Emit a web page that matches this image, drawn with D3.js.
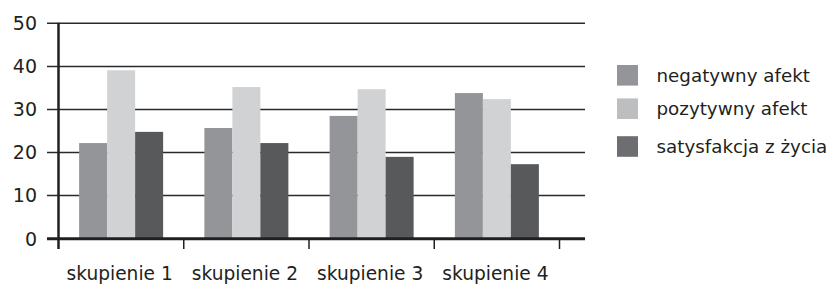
<!DOCTYPE html>
<html>
<head>
<meta charset="utf-8">
<script src="https://cdn.jsdelivr.net/npm/d3@7"></script>
<style>
  html, body { margin: 0; padding: 0; background: #fff; }
  svg { display: block; font-family: "DejaVu Sans", sans-serif; }
</style>
</head>
<body>
<svg id="chart" width="840" height="284"></svg>
<script>
const categories = ["skupienie 1", "skupienie 2", "skupienie 3", "skupienie 4"];
const seriesNames = ["negatywny afekt", "pozytywny afekt", "satysfakcja z życia"];
const negatywnyAfekt = [22.2, 25.7, 28.5, 33.8];
const pozytywnyAfekt = [39.1, 35.2, 34.7, 32.4];
const satysfakcja = [24.8, 22.2, 19.0, 17.3];
const yTicks = [0, 10, 20, 30, 40, 50];

const seriesValues = [negatywnyAfekt, pozytywnyAfekt, satysfakcja];
const barColors = ["#939598", "#d1d2d4", "#58595b"];
const legendColors = ["#939598", "#bcbec0", "#6d6e71"];

const svg = d3.select("#chart");
const plotLeft = 58.5, plotRight = 559.5, plotTop = 23.3, plotBottom = 238.7;
const gridLeft = 47, gridRight = 585;

const y = d3.scaleLinear().domain([0, 50]).range([plotBottom, plotTop]);
const x = d3.scaleBand().domain(categories).range([plotLeft, plotRight]).paddingInner(0).paddingOuter(0);
const groupW = 84;
const x1 = d3.scaleBand().domain(seriesNames).range([0, groupW]).padding(0);
const groupOffset = (x.bandwidth() - groupW) / 2;

// gridlines
svg.append("g").selectAll("line").data(yTicks.filter(d => d > 0)).join("line")
  .attr("x1", gridLeft).attr("x2", gridRight)
  .attr("y1", d => y(d)).attr("y2", d => y(d))
  .attr("stroke", "#2b2a2b").attr("stroke-width", 1.5);

// tick labels
svg.append("g").selectAll("text").data(yTicks).join("text")
  .attr("x", 37).attr("y", d => y(d)).attr("dy", "0.36em")
  .attr("text-anchor", "end").attr("font-size", 19).attr("fill", "#231f20")
  .text(d => d);

// bars
const data = [];
categories.forEach((c, i) => seriesNames.forEach((s, j) => data.push({c, s, j, v: seriesValues[j][i]})));
svg.append("g").selectAll("rect").data(data).join("rect")
  .attr("x", d => x(d.c) + groupOffset + x1(d.s))
  .attr("width", x1.bandwidth())
  .attr("y", d => y(d.v))
  .attr("height", d => y(0) - y(d.v))
  .attr("fill", d => barColors[d.j]);

// x axis line
svg.append("line").attr("x1", gridLeft).attr("x2", gridRight)
  .attr("y1", y(0)).attr("y2", y(0)).attr("stroke", "#231f20").attr("stroke-width", 3);
// y axis line
svg.append("line").attr("x1", plotLeft).attr("x2", plotLeft)
  .attr("y1", y(50) - 0.5).attr("y2", 249).attr("stroke", "#231f20").attr("stroke-width", 2.5);
// category ticks
const bounds = categories.map(c => x(c) + x.bandwidth());
svg.append("g").selectAll("line").data(bounds).join("line")
  .attr("x1", d => d).attr("x2", d => d)
  .attr("y1", y(0)).attr("y2", 249)
  .attr("stroke", "#231f20").attr("stroke-width", 1.5);

// category labels
svg.append("g").selectAll("text").data(categories).join("text")
  .attr("x", d => x(d) + x.bandwidth() / 2 - 1.5)
  .attr("y", 279.5)
  .attr("text-anchor", "middle").attr("font-size", 18.6).attr("fill", "#231f20")
  .text(d => d);

// legend
const legendY = [75.3, 108.7, 146.5];
const lg = svg.append("g").selectAll("g").data(seriesNames).join("g")
  .attr("transform", (d, i) => `translate(617, ${legendY[i]})`);
lg.append("rect").attr("x", 0).attr("y", -10.3).attr("width", 21).attr("height", 20.6)
  .attr("fill", (d, i) => legendColors[i]);
lg.append("text").attr("x", 39.5).attr("y", 0).attr("dy", "0.36em")
  .attr("font-size", 18.3).attr("fill", "#231f20").text(d => d);
</script>
</body>
</html>
